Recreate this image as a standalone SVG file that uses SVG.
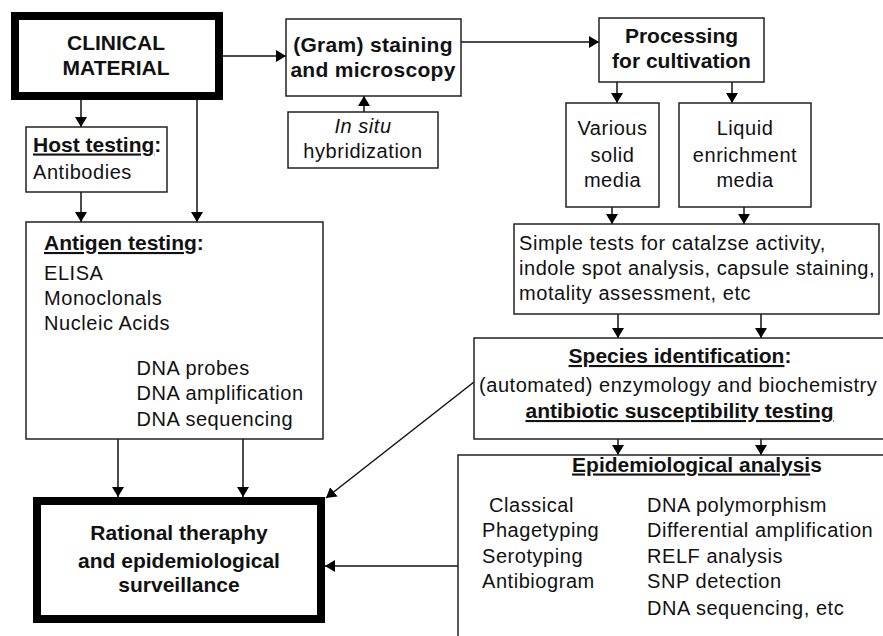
<svg xmlns="http://www.w3.org/2000/svg" width="883" height="636" viewBox="0 0 883 636">
<style>
.box{fill:#fff;stroke:#222;stroke-width:1.5}
.thick{fill:#fff;stroke:#000;stroke-width:8}
text{font-family:"Liberation Sans",Arial,sans-serif;fill:#111}
.r{font-size:20px;letter-spacing:0.55px}
.b{font-size:21px;font-weight:bold}
.c{text-anchor:middle}
.u{text-decoration:underline}
.con{stroke:#111;stroke-width:1.5;fill:none;marker-end:url(#ah)}
</style>
<defs>
<marker id="ah" viewBox="0 0 10 12" refX="10" refY="6" markerWidth="10" markerHeight="12" markerUnits="userSpaceOnUse" orient="auto">
<path d="M0,0 L10,6 L0,12 z" fill="#000"/>
</marker>
</defs>
<g id="connectors">
<line class="con" x1="223" y1="56" x2="286" y2="56"/>
<line class="con" x1="81" y1="100" x2="81" y2="127"/>
<line class="con" x1="197" y1="100" x2="197" y2="222"/>
<line class="con" x1="81" y1="192" x2="81" y2="222"/>
<line class="con" x1="364" y1="112" x2="364" y2="96"/>
<line class="con" x1="461" y1="42" x2="599" y2="42"/>
<line class="con" x1="617" y1="82" x2="617" y2="103"/>
<line class="con" x1="732" y1="82" x2="732" y2="103"/>
<line class="con" x1="612" y1="207" x2="612" y2="224"/>
<line class="con" x1="744" y1="207" x2="744" y2="224"/>
<line class="con" x1="618" y1="314" x2="618" y2="338"/>
<line class="con" x1="761" y1="314" x2="761" y2="338"/>
<line class="con" x1="618" y1="439" x2="618" y2="455"/>
<line class="con" x1="761" y1="439" x2="761" y2="455"/>
<line class="con" x1="118" y1="439" x2="118" y2="497"/>
<line class="con" x1="243" y1="439" x2="243" y2="497"/>
<line class="con" x1="474" y1="382" x2="326" y2="498"/>
<line class="con" x1="458" y1="566" x2="325" y2="566"/>
</g>
<g id="clinical">
<rect class="thick" x="15" y="16" width="204" height="80"/>
<text class="b c" x="116" y="50">CLINICAL</text>
<text class="b c" x="116" y="75">MATERIAL</text>
</g>
<g id="gram">
<rect class="box" x="286" y="19" width="175" height="77"/>
<text class="b c" x="373" y="51.5" letter-spacing="0.3">(Gram) staining</text>
<text class="b c" x="373" y="76.5" letter-spacing="0.3">and microscopy</text>
</g>
<g id="insitu">
<rect class="box" x="288" y="112" width="150" height="56"/>
<text class="r c" x="363" y="133" font-style="italic">In situ</text>
<text class="r c" x="363" y="158">hybridization</text>
</g>
<g id="processing">
<rect class="box" x="599" y="18" width="165" height="64"/>
<text class="b c" x="681.5" y="43">Processing</text>
<text class="b c" x="681.5" y="68">for cultivation</text>
</g>
<g id="various">
<rect class="box" x="566" y="103" width="93" height="104"/>
<text class="r c" x="612.5" y="135">Various</text>
<text class="r c" x="612.5" y="161.5">solid</text>
<text class="r c" x="612.5" y="186.5">media</text>
</g>
<g id="liquid">
<rect class="box" x="679" y="103" width="132" height="104"/>
<text class="r c" x="745" y="135">Liquid</text>
<text class="r c" x="745" y="161.5">enrichment</text>
<text class="r c" x="745" y="186.5">media</text>
</g>
<g id="host">
<rect class="box" x="26" y="127" width="141" height="65"/>
<text class="b" x="33" y="151.5"><tspan class="u">Host testing</tspan>:</text>
<text class="r" x="33" y="179">Antibodies</text>
</g>
<g id="antigen">
<rect class="box" x="26" y="222" width="297" height="217"/>
<text class="b" x="44" y="250"><tspan class="u">Antigen testing</tspan>:</text>
<text class="r" x="44" y="280">ELISA</text>
<text class="r" x="44" y="305">Monoclonals</text>
<text class="r" x="44" y="330">Nucleic Acids</text>
<text class="r" x="136.5" y="375">DNA probes</text>
<text class="r" x="136.5" y="400">DNA amplification</text>
<text class="r" x="136.5" y="426">DNA sequencing</text>
</g>
<g id="simple">
<rect class="box" x="514" y="224" width="365" height="90"/>
<text class="r" x="519" y="250">Simple tests for catalzse activity,</text>
<text class="r" x="519" y="275">indole spot analysis, capsule staining,</text>
<text class="r" x="519" y="300">motality assessment, etc</text>
</g>
<g id="species">
<rect class="box" x="474" y="338" width="430" height="101"/>
<text class="b c" x="680" y="363"><tspan class="u">Species identification</tspan>:</text>
<text class="r" x="479" y="391.5">(automated) enzymology and biochemistry</text>
<text class="b c u" x="679.5" y="418">antibiotic susceptibility testing</text>
</g>
<g id="epidemiological">
<rect class="box" x="458" y="455" width="450" height="200"/>
<text class="b c" x="697" y="471.5"><tspan class="u">Epidemiological analysi</tspan>s</text>
<text class="r" x="489" y="511.5">Classical</text>
<text class="r" x="482" y="537">Phagetyping</text>
<text class="r" x="482" y="563">Serotyping</text>
<text class="r" x="482" y="588">Antibiogram</text>
<text class="r" x="647" y="511.5">DNA polymorphism</text>
<text class="r" x="647" y="537">Differential amplification</text>
<text class="r" x="647" y="563">RELF analysis</text>
<text class="r" x="647" y="588">SNP detection</text>
<text class="r" x="647" y="615">DNA sequencing, etc</text>
</g>
<g id="rational">
<rect class="thick" x="37" y="501" width="284" height="118"/>
<text class="b c" x="179" y="540" font-size="20">Rational theraphy</text>
<text class="b c" x="179" y="568">and epidemiological</text>
<text class="b c" x="179" y="591.5">surveillance</text>
</g>
</svg>
